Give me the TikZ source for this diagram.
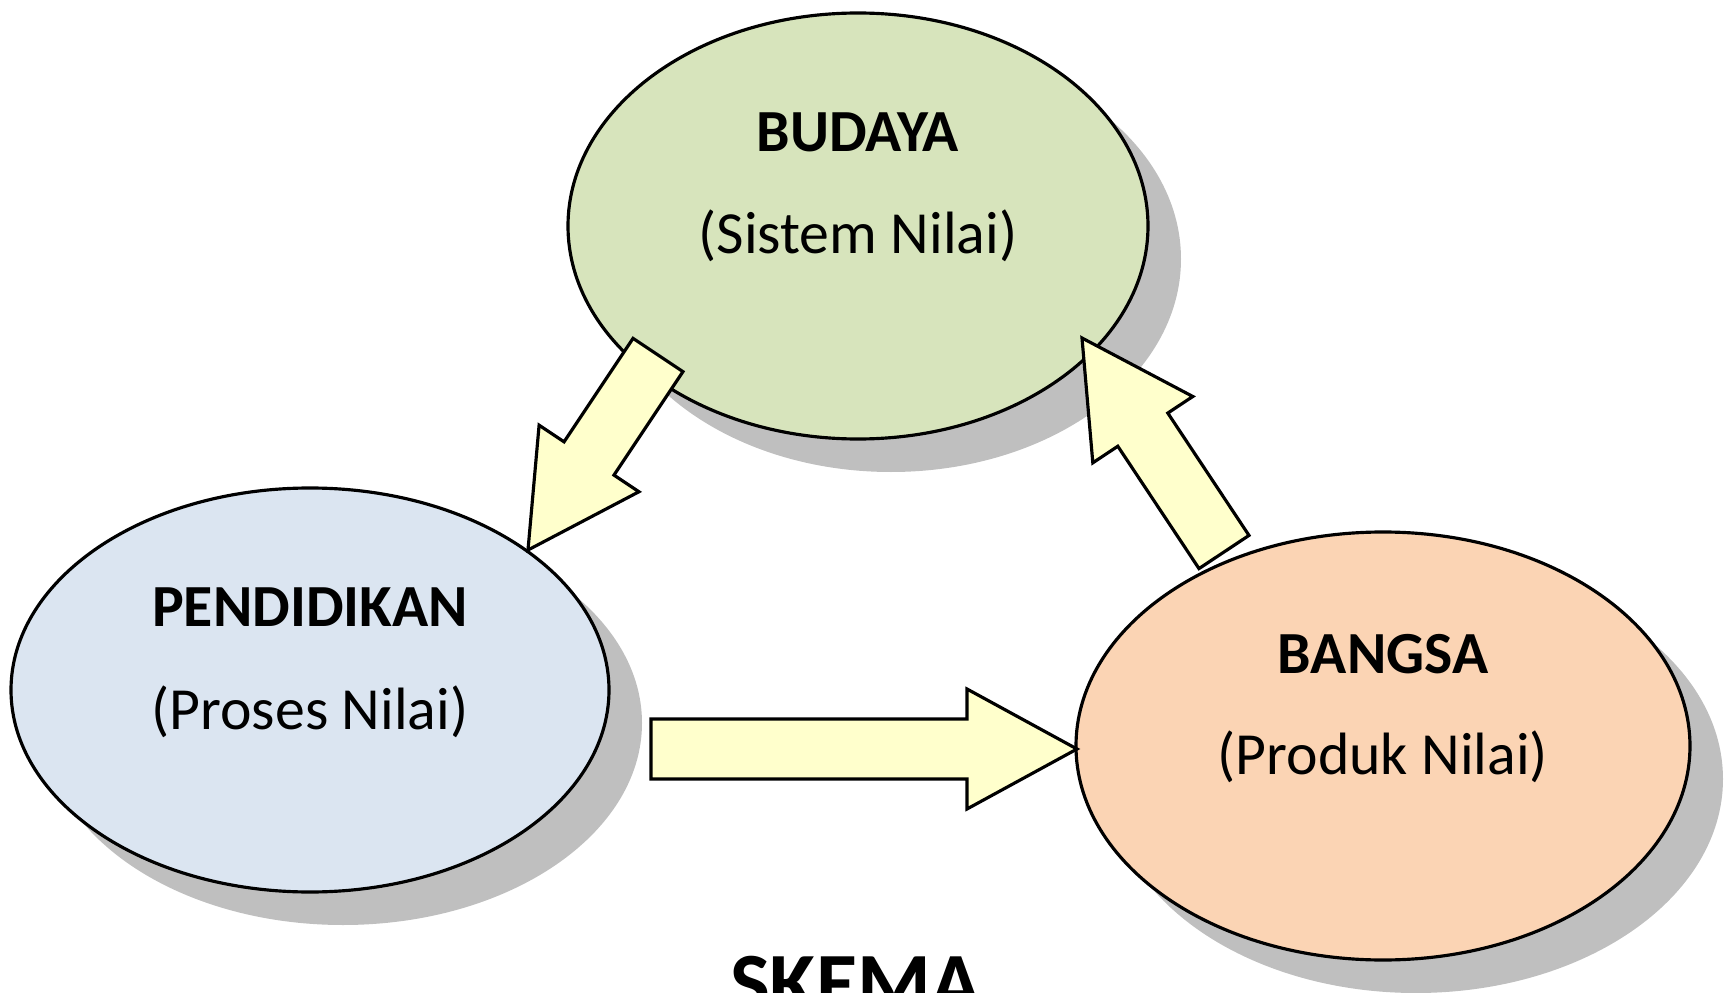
\documentclass[tikz,border=0pt]{standalone}
\usepackage{fontspec}
\setmainfont{Carlito}
\usepackage{tikz}
\usetikzlibrary{shapes.geometric,shadows,calc}

\definecolor{budayagreen}{HTML}{D7E4BC}
\definecolor{pendidikanblue}{HTML}{DBE5F1}
\definecolor{bangsaorange}{HTML}{FBD4B4}
\definecolor{arrowyellow}{HTML}{FFFFCC}

\tikzset{
  bubble/.style={ellipse, draw, line width=0.9pt, inner sep=0pt,
    drop shadow={shadow xshift=0.33cm, shadow yshift=-0.33cm, fill=black!25, opacity=1}},
  heading/.style={font=\fontsize{17}{20}\selectfont\bfseries},
  subheading/.style={font=\fontsize{17}{20}\selectfont},
  arrowbody/.style={draw, line width=0.9pt, fill=arrowyellow}
}

% block arrow from tail #1 to tip #2
\newcommand{\blockarrow}[2]{%
  \draw[arrowbody]
    ($(#1)!0.3cm!90:(#2)$) --
    ($(#2)!1.1cm!(#1)!0.3cm!-90:(#1)$) --
    ($(#2)!1.1cm!(#1)!0.6cm!-90:(#1)$) --
    (#2) --
    ($(#2)!1.1cm!(#1)!0.6cm!90:(#1)$) --
    ($(#2)!1.1cm!(#1)!0.3cm!90:(#1)$) --
    ($(#1)!0.3cm!-90:(#2)$) -- cycle;}

\begin{document}
\begin{tikzpicture}
\useasboundingbox (0,0) rectangle (17.31,9.92);

\node[bubble, fill=budayagreen, minimum width=5.8cm, minimum height=4.26cm] (budaya) at (8.58,7.66) {};
\node[bubble, fill=pendidikanblue, minimum width=5.98cm, minimum height=4.04cm] (pendidikan) at (3.10,3.02) {};
\node[bubble, fill=bangsaorange, minimum width=6.14cm, minimum height=4.28cm] (bangsa) at (13.83,2.46) {};

\node[heading] (budayatitle) at (8.58,8.60) {BUDAYA};
\node[subheading] (budayasub) at (8.58,7.56) {(Sistem Nilai)};
\node[heading] (pendidikantitle) at (3.10,3.85) {PENDIDIKAN};
\node[subheading] (pendidikansub) at (3.10,2.80) {(Proses Nilai)};
\node[heading] (bangsatitle) at (13.83,3.38) {BANGSA};
\node[subheading] (bangsasub) at (13.83,2.35) {(Produk Nilai)};

\coordinate (budayaout) at (6.58,6.37);
\coordinate (pendidikanin) at (5.28,4.42);
\coordinate (pendidikanout) at (6.51,2.43);
\coordinate (bangsain) at (10.77,2.43);
\coordinate (bangsaout) at (12.24,4.40);
\coordinate (budayain) at (10.82,6.54);

\blockarrow{budayaout}{pendidikanin}
\blockarrow{pendidikanout}{bangsain}
\blockarrow{bangsaout}{budayain}

\node[font=\fontsize{24}{29}\selectfont\bfseries, anchor=base] (skema) at (8.56,-0.19) {SKEMA};
\end{tikzpicture}
\end{document}
